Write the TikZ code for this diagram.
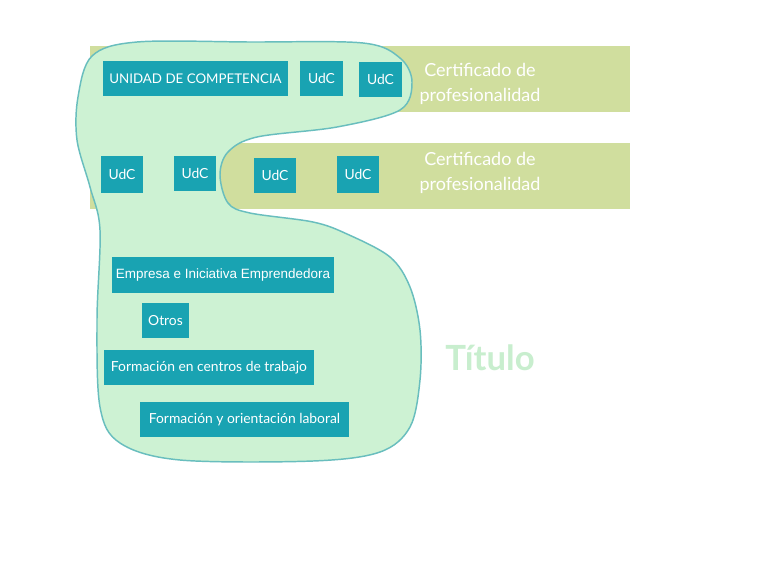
\documentclass[tikz,border=0pt]{standalone}
\usepackage{fontspec}
\setmainfont{Lato}
\newfontfamily\arialf{Liberation Sans}
\definecolor{band}{RGB}{208,222,158}
\definecolor{blobfill}{RGB}{205,242,211}
\definecolor{blobline}{RGB}{105,190,190}
\definecolor{boxc}{RGB}{25,163,178}
\definecolor{titc}{RGB}{200,238,206}
\def\px{0.75pt}
\tikzset{
  box/.style={fill=boxc, text=white, inner sep=0pt, font=\fontsize{10.4}{12}\selectfont},
  bandbox/.style={fill=band, draw=none},
  certtext/.style={text=white, align=center, font=\fontsize{13.5}{18.5}\selectfont},
}
\begin{document}
\begin{tikzpicture}[x=\px,y=-\px]
\useasboundingbox (0,0) rectangle (768,561);
\fill[white] (0,0) rectangle (768,561);
% bands
\path[bandbox] (90,46) rectangle (630,112);
\path[bandbox] (90,143) rectangle (630,209);
% blob
\draw[fill=blobfill, draw=blobline, line width=1.1pt] plot[smooth cycle, tension=0.55] coordinates {
(92,56) (137,42) (250,42) (363,43) (400,58) (412,82) (400,110) (337,127) (257,137)
(228,152) (220,175) (228,203) (250,213) (313,222) (347,234) (390,257) (410,287) (420,330)
(420,380) (410,427) (380,452) (313,461) (180,460) (120,443) (100,407) (97,320) (100,230)
(90,187) (77,140) (78,97)};
% text in bands
\node[certtext] (c1) at (480,84) {Certificado de\\profesionalidad};
\node[certtext] (c2) at (480,173) {Certificado de\\profesionalidad};
% row 1 boxes
\node[box, minimum width={185*\px}, minimum height={35*\px}, font=\fontsize{10}{12}\selectfont] (u) at (195.5,78.5) {UNIDAD DE COMPETENCIA};
\node[box, minimum width={43*\px}, minimum height={35*\px}] (u1) at (321.5,78.5) {UdC};
\node[box, minimum width={43*\px}, minimum height={35*\px}] (u2) at (380.5,79.5) {UdC};
% row 2 boxes
\node[box, minimum width={42*\px}, minimum height={37*\px}] (u3) at (122,174.5) {UdC};
\node[box, minimum width={42*\px}, minimum height={35*\px}] (u4) at (195,173.5) {UdC};
\node[box, minimum width={42*\px}, minimum height={35*\px}] (u5) at (275,175.5) {UdC};
\node[box, minimum width={42*\px}, minimum height={37*\px}] (u6) at (358,174.5) {UdC};
% lower boxes
\node[box, minimum width={222*\px}, minimum height={36*\px}, font=\arialf\fontsize{10.1}{12}\selectfont] (e) at (223,275) {Empresa e Iniciativa Emprendedora};
\node[box, minimum width={47*\px}, minimum height={35*\px}] (o) at (165.5,320.5) {Otros};
\node[box, minimum width={210*\px}, minimum height={35*\px}] (f1) at (209,367.5) {Formación en centros de trabajo};
\node[box, minimum width={209*\px}, minimum height={35*\px}] (f2) at (244.5,419.5) {Formación y orientación laboral};
% title
\node[text=titc, font=\fontsize{26}{30}\selectfont\bfseries] (t) at (490,358) {Título};
\end{tikzpicture}
\end{document}
